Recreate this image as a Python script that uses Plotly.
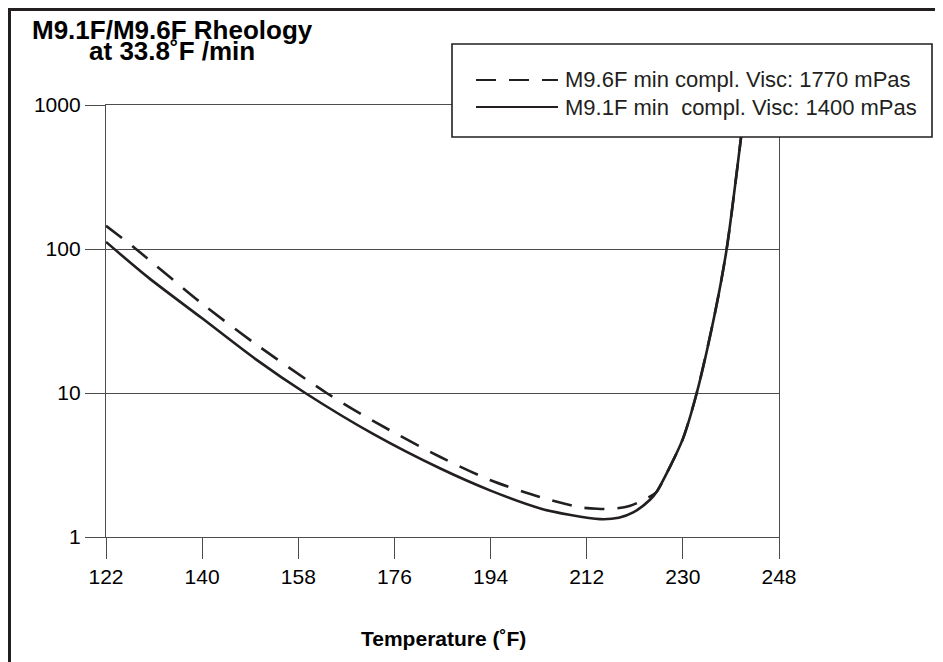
import plotly.graph_objects as go

# ---- data ----
temp_m91 = [122, 130, 140, 150, 159.3, 172, 184.5, 194, 203.3, 209, 214.5, 218, 220.7, 223.9,
            225.1, 227.6, 230.0, 232.6, 236.0, 238.2, 240.9, 241.6]
visc_m91 = [112, 63, 33, 17.2, 10, 5.2, 3.0, 2.1, 1.58, 1.42, 1.33, 1.36, 1.48, 1.82,
            2.06, 3.08, 4.8, 10, 35.8, 100, 600, 1000]

temp_m96 = [122, 127.6, 140, 150, 163.3, 172, 184.5, 193.9, 203.3, 210.7, 214, 217, 220, 222, 224.4,
            225.1, 227.6, 230.0, 232.6, 236.0, 238.2, 240.9, 241.6]
visc_m96 = [145, 100, 41.7, 21.9, 10, 6.4, 3.61, 2.49, 1.89, 1.61, 1.57, 1.57, 1.64, 1.76, 1.96,
            2.06, 3.08, 4.8, 10, 35.8, 100, 600, 1000]

x_ticks = [122, 140, 158, 176, 194, 212, 230, 248]
y_ticks = [1, 10, 100, 1000]
y_ticktext = ["1", "10", "100", "1000"]

name_m96 = "M9.6F min compl. Visc: 1770 mPas"
name_m91 = "M9.1F min  compl. Visc: 1400 mPas"
title_1 = "M9.1F/M9.6F Rheology"
title_2 = "at 33.8˚F /min"
x_title = "Temperature (˚F)"

# ---- figure (page has an 8px body margin, so the figure is 8px smaller) ----
OFF = 8
W, H = 943 - OFF, 662 - OFF
L, T = 106 - OFF, 105 - OFF
PW, PH = 673, 432
R, B = W - L - PW, H - T - PH


def px(x):  # page pixel -> paper x
    return (x - OFF - L) / PW


def py(y):  # page pixel -> paper y
    return (T + PH - (y - OFF)) / PH


INK = "#231f20"
GRID = "#4d4d4d"
FONT = "Liberation Sans, Arial, Helvetica, sans-serif"
DASH = "20px,13px"

fig = go.Figure()
fig.add_trace(go.Scatter(x=temp_m96, y=visc_m96, mode="lines", name=name_m96,
                         line=dict(color=INK, width=2.6, dash=DASH, shape="spline", smoothing=0.8)))
fig.add_trace(go.Scatter(x=temp_m91, y=visc_m91, mode="lines", name=name_m91,
                         line=dict(color=INK, width=2.6, shape="spline", smoothing=0.8)))

shapes = []
# outer frame (left + top)
shapes.append(dict(type="line", xref="paper", yref="paper", x0=px(9.5), x1=px(9.5),
                   y0=py(8), y1=py(670), line=dict(color=INK, width=3), layer="above"))
shapes.append(dict(type="line", xref="paper", yref="paper", x0=px(8), x1=px(950),
                   y0=py(9.5), y1=py(9.5), line=dict(color=INK, width=3), layer="above"))
# legend box
shapes.append(dict(type="rect", xref="paper", yref="paper", x0=px(452), x1=px(932),
                   y0=py(137), y1=py(44), fillcolor="white",
                   line=dict(color=INK, width=1.6), layer="above"))
shapes.append(dict(type="line", xref="paper", yref="paper", x0=px(476), x1=px(558),
                   y0=py(80), y1=py(80), line=dict(color=INK, width=2.2, dash=DASH), layer="above"))
shapes.append(dict(type="line", xref="paper", yref="paper", x0=px(476), x1=px(558),
                   y0=py(107), y1=py(107), line=dict(color=INK, width=2.2), layer="above"))

title_html = ('<span style="font-size:26px"><b>%s</b></span><br>'
              '<span style="font-size:26px"><b>%s</b></span>') % (title_1, title_2)

annotations = [
    dict(text=name_m96, xref="paper", yref="paper", x=px(563), y=py(80), xanchor="left",
         yanchor="middle", showarrow=False, font=dict(family=FONT, size=22, color=INK)),
    dict(text=name_m91, xref="paper", yref="paper", x=px(563), y=py(107), xanchor="left",
         yanchor="middle", showarrow=False, font=dict(family=FONT, size=22, color=INK)),
    dict(text=title_html, xref="paper", yref="paper", x=px(172), y=py(40.5),
         xanchor="center", yanchor="middle", align="center", showarrow=False,
         font=dict(family=FONT, size=16.5, color="black")),
    dict(text="<b>%s</b>" % x_title, xref="paper", yref="paper", x=px(443), y=py(638),
         xanchor="center", yanchor="middle", showarrow=False,
         font=dict(family=FONT, size=21, color="black")),
]

fig.update_layout(
    width=W, height=H,
    margin=dict(l=L, r=R, t=T, b=B, pad=0),
    paper_bgcolor="white", plot_bgcolor="white",
    showlegend=False,
    font=dict(family=FONT, color="black"),
    shapes=shapes,
    annotations=annotations,
    xaxis=dict(range=[122, 248], tickvals=x_ticks, ticks="outside", ticklen=21,
               tickcolor=GRID, tickwidth=1.3, showgrid=False, zeroline=False,
               showline=True, linecolor=GRID, linewidth=1.3, mirror=True,
               tickfont=dict(family=FONT, size=21, color="black")),
    yaxis=dict(type="log", range=[0, 3], tickvals=y_ticks, ticktext=y_ticktext,
               ticks="outside", ticklen=20, tickcolor=GRID, tickwidth=1.3,
               showgrid=True, gridcolor=GRID, gridwidth=1.3, zeroline=False,
               showline=True, linecolor=GRID, linewidth=1.3, mirror=True,
               tickfont=dict(family=FONT, size=21, color="black")),
)

fig.write_html("out.html")
